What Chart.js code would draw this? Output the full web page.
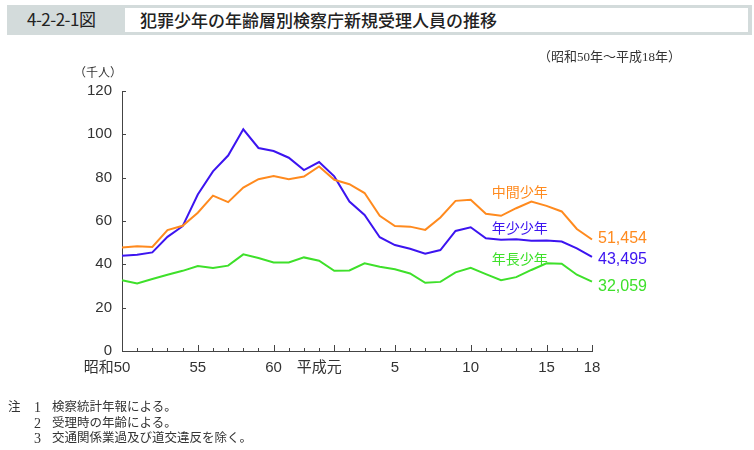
<!DOCTYPE html>
<html lang="ja">
<head>
    <meta charset="UTF-8">
    <title>犯罪少年の年齢層別検察庁新規受理人員の推移</title>
    <script src="https://cdn.jsdelivr.net/npm/chart.js@4.4.1/dist/chart.umd.min.js"></script>
    <style>
        body { margin: 0; background: #fff; }
        #wrap { position: relative; width: 754px; height: 450px; overflow: hidden; font-family: "Noto Sans CJK JP", sans-serif; color: #222; }
        #chart { position: absolute; left: 0; top: 0; }
        .bar { position: absolute; left: 7px; top: 5px; width: 745px; height: 30px; background: #d3dbdb; }
        .bar .inner { position: absolute; left: 118px; top: 3px; width: 623px; height: 24px; background: #fff; }
        .fignum { position: absolute; left: 27px; top: 8px; font-size: 17px; line-height: 22px; letter-spacing: -0.5px; }
        .title { position: absolute; left: 140px; top: 9px; font-size: 17px; line-height: 22px; font-weight: 500; }
        .serif { font-family: "Liberation Serif", "DejaVu Serif", "Noto Sans CJK JP", serif; }
        .period { position: absolute; left: 538px; top: 48px; font-size: 13px; line-height: 18px; color: #333; }
        .unit { position: absolute; left: 74px; top: 64px; font-size: 12px; line-height: 16px; color: #333; }
        .note { position: absolute; font-size: 12.5px; line-height: 15px; color: #333; }
        .num { font-size: 14px; }
    </style>
</head>
<body>
<div id="wrap">
    <canvas id="chart" width="754" height="450"></canvas>
    <div class="bar"><div class="inner"></div></div>
    <div class="fignum">4-2-2-1図</div>
    <div class="title">犯罪少年の年齢層別検察庁新規受理人員の推移</div>
    <div class="period serif">（昭和50年～平成18年）</div>
    <div class="unit">（千人）</div>
    <div class="note serif" style="left:8px; top:400px;">注</div>
    <div class="note serif num" style="left:34px; top:400px;">1</div>
    <div class="note serif" style="left:52px; top:400px;">検察統計年報による。</div>
    <div class="note serif num" style="left:34px; top:415.5px;">2</div>
    <div class="note serif" style="left:52px; top:415.5px;">受理時の年齢による。</div>
    <div class="note serif num" style="left:34px; top:431px;">3</div>
    <div class="note serif" style="left:52px; top:431px;">交通関係業過及び道交違反を除く。</div>
</div>

<script>
    // 昭和50年 (1975) - 平成18年 (2006)
    const years = [];
    for (let y = 1975; y <= 2006; y++) years.push(y);

    // tick labels shown under the x axis ('' = tick only)
    const tickLabels = ['昭和50', '', '', '', '', '55', '', '', '', '', '60', '', '', '', '平成元',
        '', '', '', '5', '', '', '', '', '10', '', '', '', '', '15', '', '', '18'];

    // 千人
    const chukan = [47.8, 48.4, 48.0, 55.8, 57.8, 63.8, 71.7, 68.7, 75.4, 79.3, 80.8, 79.3, 80.5, 85.2, 79.0, 77.0,
        72.9, 62.4, 57.7, 57.4, 55.9, 61.6, 69.3, 69.8, 63.3, 62.4, 65.9, 69.0, 67.0, 64.4, 56.3, 51.454];
    const nensho = [44.0, 44.4, 45.5, 52.7, 57.6, 72.2, 82.9, 90.2, 102.3, 93.7, 92.3, 89.2, 83.5, 87.2, 80.6, 69.0,
        62.8, 52.5, 48.9, 47.2, 44.9, 46.6, 55.4, 57.1, 52.0, 51.3, 51.6, 50.9, 51.0, 50.5, 47.4, 43.495];
    const nencho = [32.7, 31.2, 33.2, 35.2, 37.0, 39.2, 38.3, 39.4, 44.6, 42.9, 40.9, 40.9, 43.2, 41.7, 37.0, 37.2,
        40.5, 38.9, 37.7, 35.8, 31.5, 31.9, 36.3, 38.4, 35.5, 32.7, 34.1, 37.4, 40.5, 40.3, 35.2, 32.059];

    const lastValues = ['51,454', '43,495', '32,059'];
    const seriesNames = ['中間少年', '年少少年', '年長少年'];
    const colors = ['#ff8a1e', '#3c14f0', '#3ee02a'];

    const numFont = '15px "Liberation Sans", "Noto Sans CJK JP", sans-serif';

    // inward ticks, x labels, series names and end values
    const decorations = {
        id: 'decorations',
        afterDraw(chart) {
            const ctx = chart.ctx;
            const x = chart.scales.x, y = chart.scales.y;
            const area = chart.chartArea;
            ctx.save();
            ctx.strokeStyle = '#444';
            ctx.lineWidth = 1;
            ctx.beginPath();
            years.forEach((yr, i) => {
                const px = Math.round(x.getPixelForValue(i)) + 0.5;
                const len = tickLabels[i] ? 6 : 3;
                ctx.moveTo(px, area.bottom);
                ctx.lineTo(px, area.bottom - len);
            });
            for (let v = 20; v <= 120; v += 20) {
                const py = Math.round(y.getPixelForValue(v)) + 0.5;
                ctx.moveTo(area.left, py);
                ctx.lineTo(area.left + 4, py);
            }
            ctx.stroke();

            // x labels: the number is centred on the tick, the era name sits to its left
            ctx.font = numFont;
            ctx.fillStyle = '#333';
            ctx.textBaseline = 'middle';
            tickLabels.forEach((lab, i) => {
                if (!lab) return;
                const px = x.getPixelForValue(i);
                const m = lab.match(/^(\D*)(\d*)$/);
                let pre = m[1], num = m[2];
                if (!num) { num = pre.slice(-1); pre = pre.slice(0, -1); }
                const w = ctx.measureText(num).width;
                ctx.textAlign = 'center';
                ctx.fillText(num, px, 368);
                if (pre) {
                    ctx.textAlign = 'right';
                    ctx.fillText(pre, px - w / 2, 368);
                }
            });

            // series names
            ctx.font = '14px "Noto Sans CJK JP", sans-serif';
            ctx.textAlign = 'left';
            const nameSpots = [[24, 73.5], [24, 57], [24, 42.8]];
            nameSpots.forEach((s, k) => {
                ctx.fillStyle = colors[k];
                ctx.fillText(seriesNames[k], x.getPixelForValue(s[0]) + 6, y.getPixelForValue(s[1]));
            });

            // values at the end of each line
            ctx.font = '16px "Liberation Sans", sans-serif';
            const lastIdx = years.length - 1;
            const ends = [chukan[lastIdx], nensho[lastIdx], nencho[lastIdx]];
            const shift = [-1, 3, 5];
            ends.forEach((v, k) => {
                ctx.fillStyle = colors[k];
                ctx.fillText(lastValues[k], x.getPixelForValue(lastIdx) + 6, y.getPixelForValue(v) + shift[k]);
            });
            ctx.restore();
        }
    };

    function line(label, data, color) {
        return {
            label: label,
            data: data,
            borderColor: color,
            borderWidth: 2,
            pointRadius: 0,
            tension: 0,
            fill: false
        };
    }

    new Chart(document.getElementById('chart'), {
        type: 'line',
        data: {
            labels: years,
            datasets: [
                line(seriesNames[0], chukan, colors[0]),
                line(seriesNames[1], nensho, colors[1]),
                line(seriesNames[2], nencho, colors[2])
            ]
        },
        options: {
            responsive: false,
            animation: false,
            layout: { padding: { left: 0, top: 91, right: 162, bottom: 0 } },
            plugins: {
                legend: { display: false },
                tooltip: { enabled: false }
            },
            scales: {
                x: {
                    offset: false,
                    grid: { display: false, drawTicks: false },
                    border: { display: true, color: '#444', width: 1 },
                    ticks: { display: false },
                    afterFit(scale) { scale.height = 99; }
                },
                y: {
                    min: 0,
                    max: 120,
                    grid: { display: false, drawTicks: false },
                    border: { display: true, color: '#444', width: 1 },
                    ticks: {
                        stepSize: 20,
                        padding: 10,
                        color: '#333',
                        font: { family: '"Liberation Sans", sans-serif', size: 15 }
                    },
                    afterFit(scale) { scale.width = 122; }
                }
            }
        },
        plugins: [decorations]
    });
</script>
</body>
</html>
